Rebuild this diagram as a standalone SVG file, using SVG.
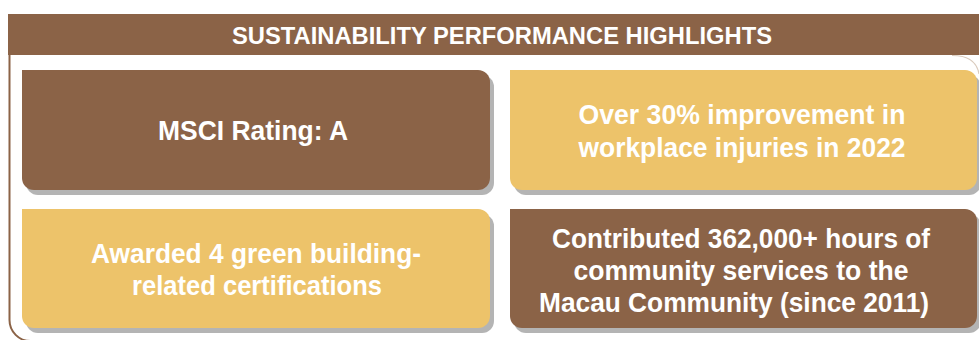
<svg xmlns="http://www.w3.org/2000/svg" width="979" height="340" viewBox="0 0 979 340">
  <style>
    .brown { fill: #8b6347; }
    .yellow { fill: #edc36a; }
    .shadow { fill: #b4b4b4; }
    .frame { fill: none; stroke: #8b6347; stroke-width: 2; }
    .t { font-family: "Liberation Sans", Arial, Helvetica, sans-serif; font-weight: bold; fill: #ffffff; text-anchor: middle; }
    .h { font-size: 24px; }
    .b { font-size: 27px; }
  </style>
  <rect x="0" y="0" width="979" height="340" fill="#ffffff"/>

  <g id="frame">
    <path class="frame" d="M 9.5,52 V 320 A 21 21 0 0 0 30.5,341 H 990"/>
    <path d="M 952,55.5 Q 976,55.5 979,74" fill="none" stroke="#d9cabc" stroke-width="1.2"/>
  </g>

  <g id="header">
    <rect class="brown" x="8" y="14" width="971" height="41"/>
    <text class="t h" x="502" y="43.5" textLength="540" lengthAdjust="spacingAndGlyphs">SUSTAINABILITY PERFORMANCE HIGHLIGHTS</text>
  </g>

  <g id="connectors"></g>

  <g id="msci">
    <path class="shadow" d="M 26,75 H 482 A 12 12 0 0 1 494,87 V 183 A 12 12 0 0 1 482,195 H 38 A 12 12 0 0 1 26,183 Z"/>
    <path class="brown" d="M 22,70 H 478 A 12 12 0 0 1 490,82 V 178 A 12 12 0 0 1 478,190 H 34 A 12 12 0 0 1 22,178 Z"/>
    <text class="t b" x="253" y="139.5" textLength="190" lengthAdjust="spacingAndGlyphs">MSCI Rating: A</text>
  </g>

  <g id="injuries">
    <path class="shadow" d="M 514,75 H 969 A 12 12 0 0 1 981,87 V 183 A 12 12 0 0 1 969,195 H 526 A 12 12 0 0 1 514,183 Z"/>
    <path class="yellow" d="M 510,70 H 965 A 12 12 0 0 1 977,82 V 178 A 12 12 0 0 1 965,190 H 522 A 12 12 0 0 1 510,178 Z"/>
    <text class="t b" x="742" y="123.5" textLength="327" lengthAdjust="spacingAndGlyphs">Over 30% improvement in</text>
    <text class="t b" x="742" y="157" textLength="327" lengthAdjust="spacingAndGlyphs">workplace injuries in 2022</text>
  </g>

  <g id="green">
    <path class="shadow" d="M 26,214 H 482 A 12 12 0 0 1 494,226 V 321 A 12 12 0 0 1 482,333 H 38 A 12 12 0 0 1 26,321 Z"/>
    <path class="yellow" d="M 22,209 H 478 A 12 12 0 0 1 490,221 V 316 A 12 12 0 0 1 478,328 H 34 A 12 12 0 0 1 22,316 Z"/>
    <text class="t b" x="256" y="262.5" textLength="330" lengthAdjust="spacingAndGlyphs">Awarded 4 green building-</text>
    <text class="t b" x="257" y="295" textLength="250" lengthAdjust="spacingAndGlyphs">related certifications</text>
  </g>

  <g id="community">
    <path class="shadow" d="M 514,214 H 969 A 12 12 0 0 1 981,226 V 321 A 12 12 0 0 1 969,333 H 526 A 12 12 0 0 1 514,321 Z"/>
    <path class="brown" d="M 510,209 H 965 A 12 12 0 0 1 977,221 V 316 A 12 12 0 0 1 965,328 H 522 A 12 12 0 0 1 510,316 Z"/>
    <text class="t b" x="741" y="248" textLength="378" lengthAdjust="spacingAndGlyphs">Contributed 362,000+ hours of</text>
    <text class="t b" x="741" y="280" textLength="335" lengthAdjust="spacingAndGlyphs">community services to the</text>
    <text class="t b" x="734" y="312" textLength="390" lengthAdjust="spacingAndGlyphs">Macau Community (since 2011)</text>
  </g>
</svg>
